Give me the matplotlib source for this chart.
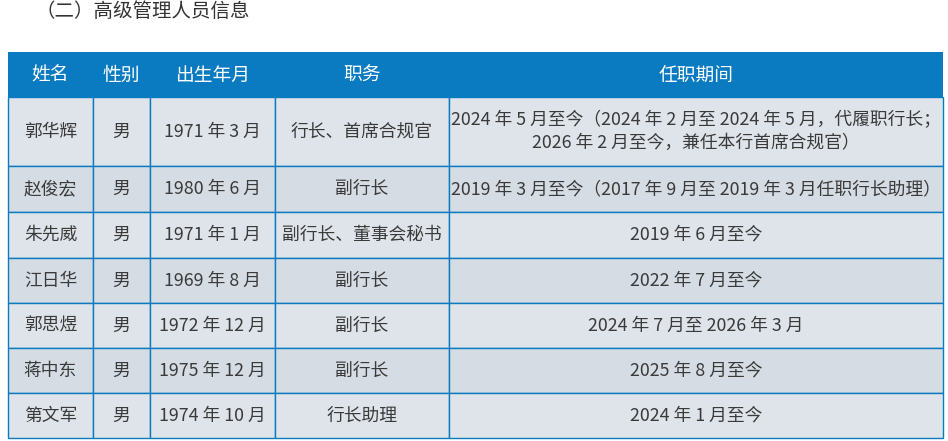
import matplotlib as mpl
mpl.use('Agg')
import matplotlib.pyplot as plt
from matplotlib.patches import Rectangle

plt.rcParams['font.family'] = ['Noto Sans CJK SC', 'DejaVu Sans']

title = '（二）高级管理人员信息'
headers = ['姓名', '性别', '出生年月', '职务', '任职期间']
names = ['郭华辉', '赵俊宏', '朱先威', '江日华', '郭思煜', '蒋中东', '第文军']
genders = ['男'] * 7
births = ['1971 年 3 月', '1980 年 6 月', '1971 年 1 月', '1969 年 8 月',
          '1972 年 12 月', '1975 年 12 月', '1974 年 10 月']
posts = ['行长、首席合规官', '副行长', '副行长、董事会秘书', '副行长',
         '副行长', '副行长', '行长助理']
terms = ['2024 年 5 月至今（2024 年 2 月至 2024 年 5 月，代履职行长；\n2026 年 2 月至今，兼任本行首席合规官）',
         '2019 年 3 月至今（2017 年 9 月至 2019 年 3 月任职行长助理）',
         '2019 年 6 月至今', '2022 年 7 月至今', '2024 年 7 月至 2026 年 3 月',
         '2025 年 8 月至今', '2024 年 1 月至今']

# layout in pixels
col_x = [8, 93, 150, 275, 449, 943]
row_y = [52, 97, 166, 212, 258, 303, 348, 393, 438]
blue = '#0b7bc1'
cell_bg = ['#dfe4ea', '#d6dce3']

fig = plt.figure(figsize=(9.48, 4.41), dpi=100)
ax = fig.add_axes([0, 0, 1, 1])
ax.set_xlim(0, 948)
ax.set_ylim(441, 0)
ax.axis('off')

ax.text(36, 11, title, fontsize=14, color='#333333', va='center', ha='left')

ax.add_patch(Rectangle((col_x[0], row_y[0]), col_x[-1] - col_x[0], row_y[1] - row_y[0],
                       facecolor=blue, edgecolor='none'))
for j, h in enumerate(headers):
    ax.text((col_x[j] + col_x[j + 1]) / 2, (row_y[0] + row_y[1]) / 2 + 1, h,
            fontsize=13.5, color='white', ha='center', va='center')

rows = list(zip(names, genders, births, posts, terms))
for i, row in enumerate(rows):
    y0, y1 = row_y[i + 1], row_y[i + 2]
    for j, val in enumerate(row):
        x0, x1 = col_x[j], col_x[j + 1]
        ax.add_patch(Rectangle((x0, y0), x1 - x0, y1 - y0, facecolor=cell_bg[i % 2],
                               edgecolor=blue, linewidth=1.0))
        ax.text((x0 + x1) / 2, (y0 + y1) / 2, val, fontsize=12.8, color='#3a3a3a',
                ha='center', va='center', linespacing=1.35)

fig.savefig('out.png', dpi=100)
plt.close()
